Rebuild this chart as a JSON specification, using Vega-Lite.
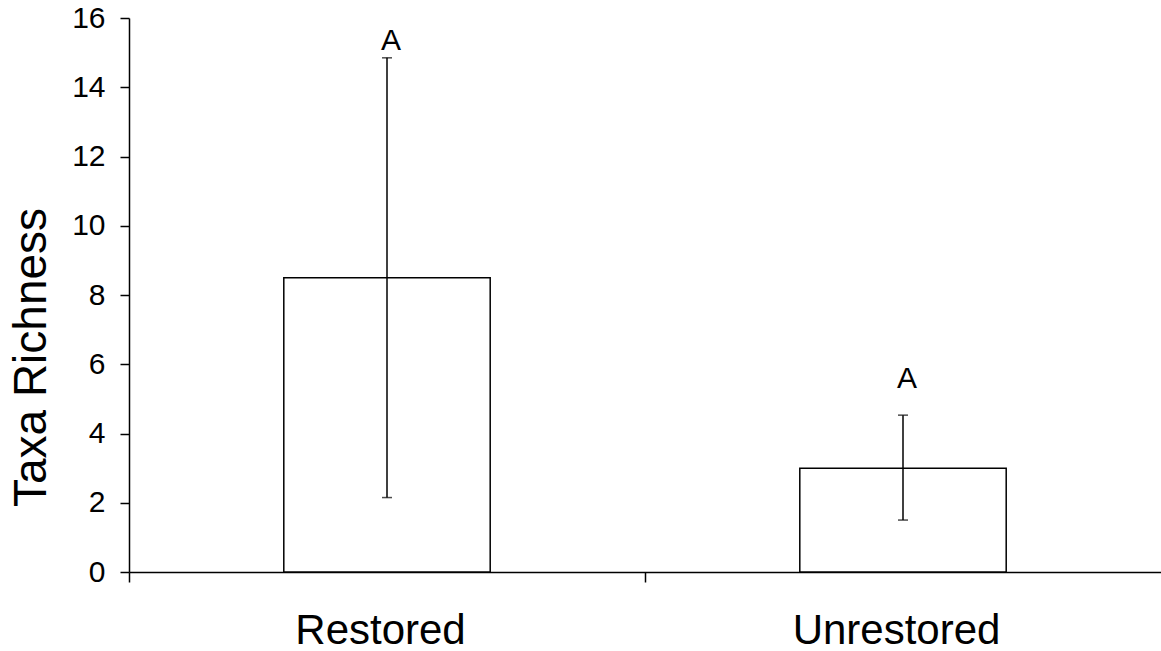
{
  "$schema": "https://vega.github.io/schema/vega-lite/v6.json",
  "width": 1032,
  "height": 554,
  "autosize": {"type": "none"},
  "padding": {"left": 129, "top": 18, "right": 0, "bottom": 79},
  "background": "white",
  "config": {
    "view": {"stroke": null},
    "font": "Liberation Sans",
    "axis": {"grid": false, "domainColor": "black", "tickColor": "black", "labelColor": "black", "titleColor": "black", "domainWidth": 1.5, "tickWidth": 1.5}
  },
  "data": {
    "values": [
      {"site": "Restored", "mean": 8.5, "low": 2.15, "high": 14.85, "letter": "A", "labelY": 15.08},
      {"site": "Unrestored", "mean": 3.0, "low": 1.5, "high": 4.53, "letter": "A", "labelY": 5.31}
    ]
  },
  "encoding": {
    "x": {
      "field": "site",
      "type": "nominal",
      "sort": null,
      "scale": {"paddingInner": 0.6, "paddingOuter": 0.3},
      "axis": {
        "title": null,
        "labelAngle": 0,
        "labelFont": "Liberation Sans",
        "labelFontSize": 42,
        "labelPadding": 28,
        "labelBaseline": "top",
        "labelLimit": 0,
        "labelOffset": 251,
        "tickOffset": -258,
        "tickSize": 10
      }
    }
  },
  "layer": [
    {
      "mark": {"type": "bar", "fill": "white", "stroke": "black", "strokeWidth": 1.5},
      "encoding": {
        "y": {
          "field": "mean",
          "type": "quantitative",
          "scale": {"domain": [0, 16], "nice": false},
          "axis": {
            "values": [0, 2, 4, 6, 8, 10, 12, 14, 16],
            "title": "Taxa Richness",
            "titleFont": "Liberation Sans",
            "titleFontSize": 46,
            "titleFontWeight": "normal",
            "titleX": -84,
            "titleY": 339,
            "titleAngle": -90,
            "titleAlign": "center",
            "titleBaseline": "alphabetic",
            "labelFont": "Liberation Sans",
            "labelFontSize": 30,
            "labelPadding": 15,
            "tickSize": 9
          }
        }
      }
    },
    {
      "mark": {"type": "rule", "color": "black", "strokeWidth": 1.5},
      "encoding": {
        "y": {"field": "low", "type": "quantitative"},
        "y2": {"field": "high"}
      }
    },
    {
      "mark": {"type": "tick", "color": "black", "size": 10, "thickness": 1.5, "orient": "horizontal"},
      "encoding": {"y": {"field": "low", "type": "quantitative"}}
    },
    {
      "mark": {"type": "tick", "color": "black", "size": 10, "thickness": 1.5, "orient": "horizontal"},
      "encoding": {"y": {"field": "high", "type": "quantitative"}}
    },
    {
      "mark": {"type": "text", "font": "Liberation Sans", "fontSize": 30, "baseline": "alphabetic", "align": "center", "color": "black", "dx": 4},
      "encoding": {
        "y": {"field": "labelY", "type": "quantitative"},
        "text": {"field": "letter"}
      }
    }
  ]
}
